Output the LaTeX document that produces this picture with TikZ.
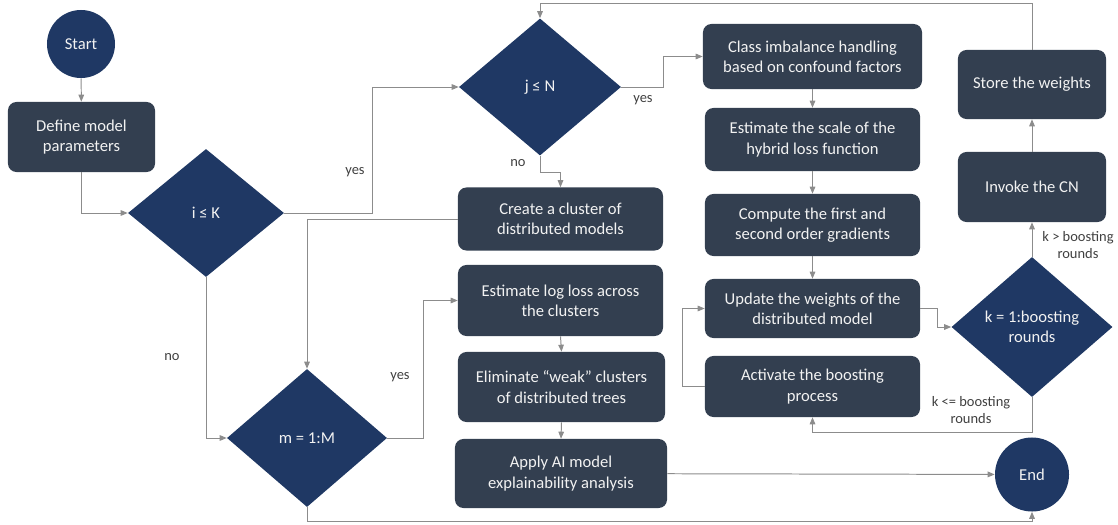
\documentclass[tikz,border=0pt]{standalone}
\usepackage{fontspec}
\setmainfont{Carlito}
\usepackage{tikz}
\usetikzlibrary{shapes.geometric, arrows.meta, positioning, calc}
\definecolor{mynavy}{RGB}{31,56,100}
\definecolor{myslate}{RGB}{51,63,80}
\definecolor{myline}{RGB}{140,140,140}
\definecolor{mytext}{RGB}{242,242,242}
\definecolor{mylabel}{RGB}{64,64,64}
\tikzset{
  procbox/.style={rectangle, draw=none, fill=myslate, text=mytext,
    align=center, font=\fontsize{11.8}{14.4}\selectfont, rounded corners=6pt,
    inner sep=2pt},
  decision/.style={diamond, draw=none, fill=mynavy, text=mytext,
    align=center, font=\fontsize{11.8}{14.4}\selectfont, inner sep=0pt},
  terminal/.style={circle, draw=none, fill=mynavy, text=mytext,
    font=\fontsize{11.8}{14.4}\selectfont, inner sep=0pt},
  arrow/.style={-{Triangle[length=5pt, width=4pt]}, line width=0.7pt, color=myline},
  line/.style={line width=0.7pt, color=myline},
  lbl/.style={font=\fontsize{10.3}{12.4}\selectfont, text=mylabel, align=center, inner sep=0pt}
}

\begin{document}
\begin{tikzpicture}[x=0.025cm, y=-0.025cm]
  \useasboundingbox (0,0) rectangle (1118,525);

  % Terminals
  \node[terminal, minimum size=1.7cm] (start) at (81,44) {Start};
  \node[terminal, minimum size=1.85cm] (end) at (1032,474.5) {End};

  % Decisions
  \node[decision, minimum width=3.9cm, minimum height=3.2cm] (ik) at (206,213) {i ≤ K};
  \node[decision, minimum width=4.05cm, minimum height=3.425cm] (jn) at (540,87) {j ≤ N};
  \node[decision, minimum width=4.0cm, minimum height=3.45cm] (mm) at (307,438) {m = 1:M};
  \node[decision, minimum width=4.025cm, minimum height=3.5cm] (kk) at (1032,327) {k = 1:boosting\\rounds};

  % Left and middle boxes
  \node[procbox, minimum width=3.675cm, minimum height=1.75cm] (define) at (81.5,137) {Define model\\parameters};
  \node[procbox, minimum width=5.125cm, minimum height=1.575cm] (create) at (560.5,219) {Create a cluster of\\distributed models};
  \node[procbox, minimum width=5.125cm, minimum height=1.775cm] (logloss) at (560.5,300.5) {Estimate log loss across\\the clusters};
  \node[procbox, minimum width=5.175cm, minimum height=1.75cm] (elim) at (561.5,387) {Eliminate “weak” clusters\\of distributed trees};
  \node[procbox, minimum width=5.3cm, minimum height=1.725cm] (apply) at (561,473.5) {Apply AI model\\explainability analysis};

  % Boosting column
  \node[procbox, minimum width=5.475cm, minimum height=1.625cm] (class) at (812.5,56.5) {Class imbalance handling\\based on confound factors};
  \node[procbox, minimum width=5.375cm, minimum height=1.575cm] (scale) at (812.5,139.5) {Estimate the scale of the\\hybrid loss function};
  \node[procbox, minimum width=5.375cm, minimum height=1.55cm] (compute) at (812.5,225) {Compute the first and\\second order gradients};
  \node[procbox, minimum width=5.375cm, minimum height=1.475cm] (update) at (812.5,308.5) {Update the weights of the\\distributed model};
  \node[procbox, minimum width=5.375cm, minimum height=1.525cm] (activate) at (812.5,386.5) {Activate the boosting\\process};
  \node[procbox, minimum width=3.7cm, minimum height=1.725cm] (store) at (1032,84.5) {Store the weights};
  \node[procbox, minimum width=3.7cm, minimum height=1.75cm] (invoke) at (1032,187) {Invoke the CN};

  % Bend points
  \coordinate (c1) at (372,0);
  \coordinate (c2) at (663,0);
  \coordinate (c3) at (423,0);
  \coordinate (c4) at (0,521);
  \coordinate (c5) at (937,0);
  \coordinate (c6) at (0,432);
  \coordinate (c7) at (682,0);
  \coordinate (c8) at (0,3);

  % Main flow
  \draw[arrow] (start) -- (define);
  \draw[arrow] (define.south) |- (ik.west);
  \draw[arrow] (ik.east) -- (ik.east -| c1) |- (jn.west);
  \draw[arrow] (jn.east) -- (jn.east -| c2) |- (class.west);
  \draw[arrow] (jn.south) -- ++(0,17) -| (create.north);
  \draw[arrow] (create.west) -| (mm.north);
  \draw[arrow] (ik.south) |- (mm.west);
  \draw[arrow] (mm.east) -- (mm.east -| c3) |- (logloss.west);
  \draw[arrow] (logloss.south) -- (elim.north);
  \draw[arrow] (elim.south) -- (apply.north);
  \draw[arrow] (apply) -- (end);
  \draw[arrow] (mm.south) -- (mm.south |- c4) -| (end.south);

  % Boosting loop
  \draw[arrow] (class) -- (scale);
  \draw[arrow] (scale) -- (compute);
  \draw[arrow] (compute) -- (update);
  \draw[arrow] (update.east) -- (update.east -| c5) |- (kk.west);
  \draw[arrow] (kk.south) -- (kk.south |- c6) -| (activate.south);
  \draw[arrow] (activate.west) -- (activate.west -| c7) |- (update.west);
  \draw[arrow] (kk.north) -- (invoke.south);
  \draw[arrow] (invoke) -- (store);
  \draw[arrow] (store.north) -- (store.north |- c8) -| (jn.north);

  % Labels
  \node[lbl] (yes1) at (355,172) {yes};
  \node[lbl] (yes2) at (643,100) {yes};
  \node[lbl] (yes3) at (400,377) {yes};
  \node[lbl] (no1) at (518,163) {no};
  \node[lbl] (no2) at (172,357) {no};
  \node[lbl] (kle) at (971,410) {k <= boosting\\rounds};
  \node[lbl] (kgt) at (1078,245) {k > boosting\\rounds};
\end{tikzpicture}
\end{document}
